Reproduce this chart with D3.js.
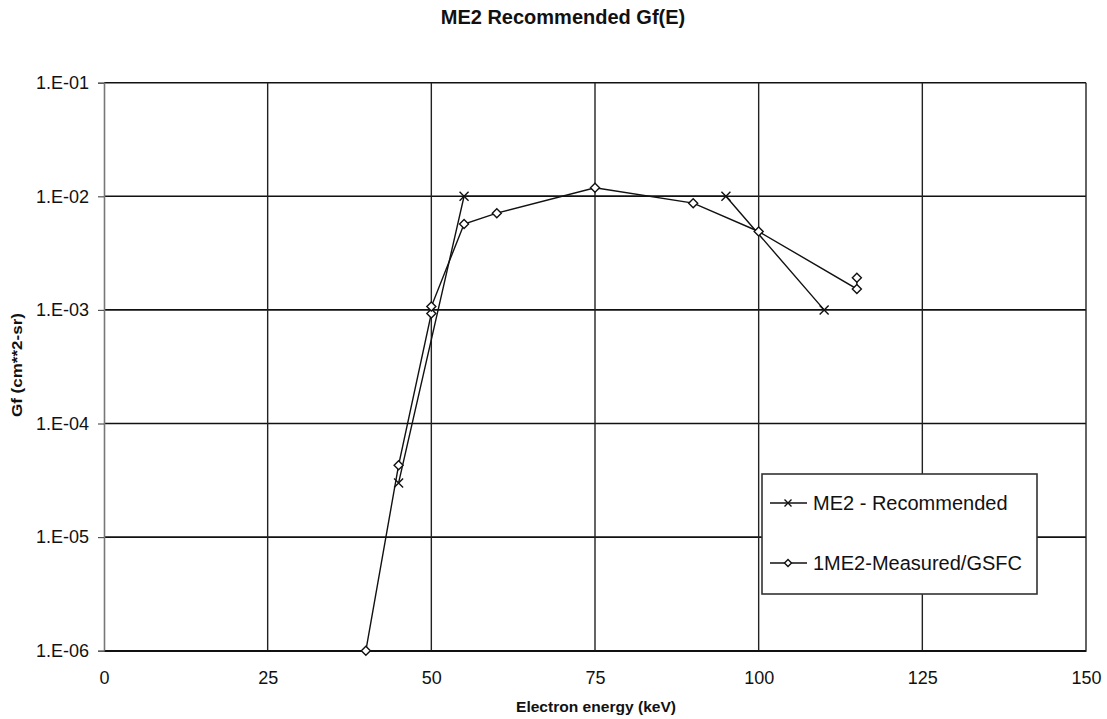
<!DOCTYPE html>
<html>
<head>
<meta charset="utf-8">
<script src="https://cdn.jsdelivr.net/npm/d3@7"></script>
<style>
  html, body { margin: 0; padding: 0; background: #fff; }
  svg { display: block; font-family: Arial, "Liberation Sans", sans-serif; }
</style>
</head>
<body>
<svg id="chart" width="1107" height="719"></svg>
<script>
// Recommended geometric factor curve
const recEnergy = [45, 55, 95, 110];
const recGf = [3.0e-5, 1.0e-2, 1.0e-2, 1.0e-3];

// Measured geometric factor (GSFC)
const measEnergy = [40, 45, 50, 50, 55, 60, 75, 90, 100, 115, 115];
const measGf = [1.0e-6, 4.3e-5, 9.3e-4, 1.07e-3, 5.7e-3, 7.1e-3, 1.19e-2, 8.7e-3, 4.9e-3, 1.53e-3, 1.92e-3];

// Axis ticks
const xTicks = [0, 25, 50, 75, 100, 125, 150];
const yTicks = [1e-6, 1e-5, 1e-4, 1e-3, 1e-2, 1e-1];

const seriesNames = ["ME2 - Recommended", "1ME2-Measured/GSFC"];

const svg = d3.select("#chart");
const plot = { left: 104, right: 1086, top: 82.7, bottom: 650.7 };

const x = d3.scaleLinear().domain([0, 150]).range([plot.left, plot.right]);
const y = d3.scaleLog().domain([1e-6, 1e-1]).range([plot.bottom, plot.top]);

const fmt = v => {
  const e = Math.round(Math.log10(v));
  return "1.E" + (e < 0 ? "-" : "+") + String(Math.abs(e)).padStart(2, "0");
};

// Title
svg.append("text")
  .attr("x", 563).attr("y", 24)
  .attr("text-anchor", "middle")
  .attr("font-weight", "bold").attr("font-size", 20)
  .attr("fill", "#111")
  .text("ME2 Recommended Gf(E)");

// Horizontal gridlines (decades)
svg.append("g").selectAll("line").data(yTicks).join("line")
  .attr("x1", plot.left).attr("x2", plot.right)
  .attr("y1", d => y(d)).attr("y2", d => y(d))
  .attr("stroke", "#111").attr("stroke-width", 1.6);

// Vertical gridlines
svg.append("g").selectAll("line").data(xTicks.filter(d => d > 0)).join("line")
  .attr("x1", d => x(d)).attr("x2", d => x(d))
  .attr("y1", plot.top).attr("y2", plot.bottom)
  .attr("stroke", "#222").attr("stroke-width", 1.4);

// Y axis
const yAxis = d3.axisLeft(y).tickValues(yTicks).tickFormat(fmt).tickSize(6).tickPadding(9);
const gy = svg.append("g").attr("transform", `translate(${plot.left},0)`).call(yAxis);
gy.select(".domain").attr("stroke", "#777").attr("stroke-width", 1.6);
gy.selectAll(".tick line").attr("stroke", "#555").attr("stroke-width", 1.2);
gy.selectAll(".tick text").attr("font-size", 18).attr("fill", "#111")
  .attr("font-family", "Arial, 'Liberation Sans', sans-serif");

// X axis
const xAxis = d3.axisBottom(x).tickValues(xTicks).tickFormat(d3.format("d")).tickSize(0).tickPadding(21);
const gx = svg.append("g").attr("transform", `translate(0,${plot.bottom})`).call(xAxis);
gx.select(".domain").attr("stroke", "#111").attr("stroke-width", 1.6);
gx.selectAll(".tick text").attr("font-size", 18).attr("fill", "#111")
  .attr("font-family", "Arial, 'Liberation Sans', sans-serif");

// Axis titles
svg.append("text")
  .attr("x", 596).attr("y", 712)
  .attr("text-anchor", "middle")
  .attr("font-weight", "bold").attr("font-size", 14)
  .attr("textLength", 160).attr("lengthAdjust", "spacingAndGlyphs")
  .attr("fill", "#111")
  .text("Electron energy (keV)");

svg.append("text")
  .attr("transform", "translate(22,365) rotate(-90)")
  .attr("text-anchor", "middle")
  .attr("font-weight", "bold").attr("font-size", 14)
  .attr("textLength", 104).attr("lengthAdjust", "spacingAndGlyphs")
  .attr("fill", "#111")
  .text("Gf (cm**2-sr)");

// Series
const line = d3.line().x(d => x(d[0])).y(d => y(d[1]));
const recData = recEnergy.map((e, i) => [e, recGf[i]]);
const measData = measEnergy.map((e, i) => [e, measGf[i]]);

const lines = svg.append("g");
lines.append("path").datum(recData).attr("d", line)
  .attr("fill", "none").attr("stroke", "#111").attr("stroke-width", 1.4);
lines.append("path").datum(measData).attr("d", line)
  .attr("fill", "none").attr("stroke", "#111").attr("stroke-width", 1.4);

const xMark = (g, cx, cy, r) => {
  g.append("path")
    .attr("d", `M${cx - r},${cy - r}L${cx + r},${cy + r}M${cx - r},${cy + r}L${cx + r},${cy - r}`)
    .attr("stroke", "#111").attr("stroke-width", 1.4).attr("fill", "none");
};
const diamond = (g, cx, cy, r) => {
  g.append("path")
    .attr("d", `M${cx},${cy - r}L${cx + r},${cy}L${cx},${cy + r}L${cx - r},${cy}Z`)
    .attr("stroke", "#111").attr("stroke-width", 1.4).attr("fill", "#fff");
};

const marks = svg.append("g");
recData.forEach(d => xMark(marks, x(d[0]), y(d[1]), 4.5));
measData.forEach(d => diamond(marks, x(d[0]), y(d[1]), 4.5));

// Legend
const lg = svg.append("g");
lg.append("rect")
  .attr("x", 762).attr("y", 474).attr("width", 275).attr("height", 120)
  .attr("fill", "#fff").attr("stroke", "#333").attr("stroke-width", 1.6);
const legendRows = [503, 563];
seriesNames.forEach((name, i) => {
  const ly = legendRows[i];
  lg.append("line").attr("x1", 770).attr("x2", 807).attr("y1", ly).attr("y2", ly)
    .attr("stroke", "#111").attr("stroke-width", 1.3);
  if (i === 0) xMark(lg, 788, ly, 3.5); else diamond(lg, 788, ly, 3.5);
  lg.append("text").attr("x", 813).attr("y", ly + 7)
    .attr("font-size", 20).attr("fill", "#111")
    .text(name);
});
</script>
</body>
</html>
